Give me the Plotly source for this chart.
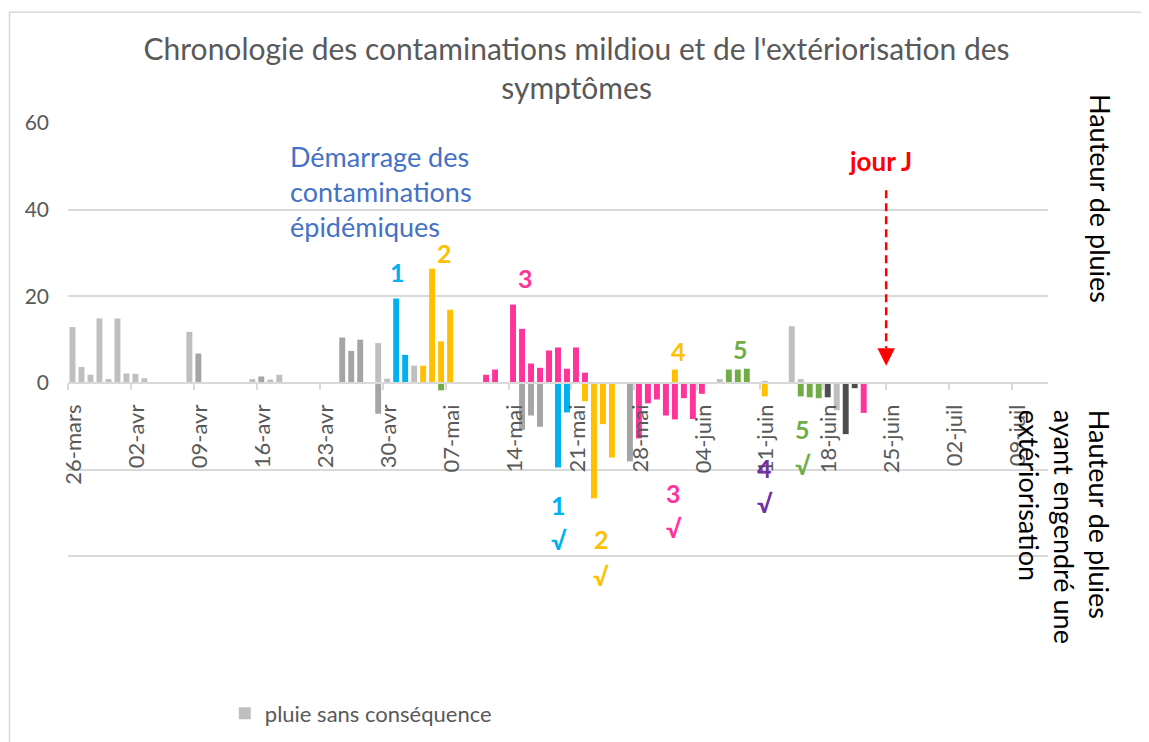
import plotly.graph_objects as go
from datetime import datetime, timedelta

YEAR = 2021
START = datetime(YEAR, 3, 26)

# ---------------- data (mm of rain per day, negatives = rains that led to symptoms) -------------
gris_clair_dates = ["03-26", "03-27", "03-28", "03-29", "03-30", "03-31", "04-01", "04-02", "04-03",
                    "04-08", "04-15", "04-17", "04-18", "04-29", "04-30", "05-03",
                    "06-06", "06-11", "06-14", "06-15", "06-19"]
gris_clair_vals = [12.9, 3.7, 1.9, 14.9, 0.9, 14.9, 2.2, 2.1, 1.1,
                   11.8, 0.9, 0.8, 1.9, 9.2, 1.0, 4.0,
                   0.9, 0.5, 13.1, 0.9, -6.3]

gris_moyen_dates = ["04-09", "04-16", "04-25", "04-26", "04-27", "04-29", "05-15", "05-16", "05-17", "05-27"]
gris_moyen_vals = [6.8, 1.5, 10.5, 7.4, 10.0, -7.1, -10.8, -7.5, -10.1, -18.1]

gris_fonce_dates = ["06-18", "06-20", "06-21"]
gris_fonce_vals = [-3.3, -11.8, -1.2]

bleu_dates = ["05-01", "05-02", "05-19", "05-20"]
bleu_vals = [19.5, 6.5, -19.5, -6.8]

orange_dates = ["05-04", "05-05", "05-06", "05-07", "05-22", "05-23", "05-24", "05-25", "06-01", "06-11"]
orange_vals = [4.0, 26.4, 9.6, 16.9, -4.2, -26.6, -9.5, -17.2, 3.1, -3.1]

rose_dates = ["05-11", "05-12", "05-14", "05-15", "05-16", "05-17", "05-18", "05-19", "05-20", "05-21",
              "05-22", "05-28", "05-29", "05-30", "05-31", "06-01", "06-02", "06-03", "06-04", "06-22"]
rose_vals = [1.9, 3.1, 18.1, 12.5, 4.5, 3.5, 7.5, 8.2, 3.3, 8.2,
             2.4, -12.8, -4.7, -3.8, -7.5, -8.4, -3.5, -8.3, -2.5, -6.9]

vert_dates = ["05-06", "06-07", "06-08", "06-09", "06-15", "06-16", "06-17"]
vert_vals = [-1.7, 3.1, 3.1, 3.3, -3.1, -3.3, -3.5]

tick_dates = ["03-26", "04-02", "04-09", "04-16", "04-23", "04-30", "05-07", "05-14",
              "05-21", "05-28", "06-04", "06-11", "06-18", "06-25", "07-02", "07-09"]
tick_labels = ["26-mars", "02-avr", "09-avr", "16-avr", "23-avr", "30-avr", "07-mai", "14-mai",
               "21-mai", "28-mai", "04-juin", "11-juin", "18-juin", "25-juin", "02-juil", "09-juil"]

y_ticks = [-60, -40, -20, 0, 20, 40, 60]
y_labels = ["", "", "", "0", "20", "40", "60"]


def dt(md):
    return f"{YEAR}-{md}"


def day(d):
    return (START + timedelta(days=d)).strftime("%Y-%m-%d %H:%M")


FONT = "Lato"
GREY_TXT = "#595959"
BAR_W = 0.66 * 86400000

fig = go.Figure()

series = [
    ("pluie sans conséquence", gris_clair_dates, gris_clair_vals, "#BFBFBF", True),
    ("gris", gris_moyen_dates, gris_moyen_vals, "#A5A5A5", False),
    ("gris foncé", gris_fonce_dates, gris_fonce_vals, "#4D4D4D", False),
    ("contamination 1", bleu_dates, bleu_vals, "#00B0F0", False),
    ("contamination 2/4", orange_dates, orange_vals, "#FFC000", False),
    ("contamination 3", rose_dates, rose_vals, "#FF3399", False),
    ("contamination 5", vert_dates, vert_vals, "#70AD47", False),
]
for name, ds, vs, col, show in series:
    fig.add_trace(go.Bar(
        x=[dt(d) for d in ds], y=vs, name=name, marker_color=col,
        marker_line_width=0, width=BAR_W, showlegend=show,
    ))

tickvals = [(datetime.strptime(dt(d), "%Y-%m-%d") - timedelta(hours=12)).strftime("%Y-%m-%d %H:%M")
            for d in tick_dates]

fig.update_layout(
    width=1141, height=734,
    margin=dict(l=60, r=101, t=115, b=99, autoexpand=False),
    paper_bgcolor="white", plot_bgcolor="white",
    barmode="relative",
    font=dict(family=FONT, color=GREY_TXT),
    title=dict(
        text="Chronologie des contaminations mildiou et de l'extériorisation des<br>symptômes",
        x=0.4983, xref="container", xanchor="center",
        y=1 - 52 / 734, yanchor="top",
        font=dict(family=FONT, size=30, color=GREY_TXT),
    ),
    xaxis=dict(
        type="date",
        range=[day(-0.5), day(108.5)],
        tickvals=tickvals, ticktext=tick_labels,
        tickangle=-90, tickfont=dict(size=22, color=GREY_TXT),
        anchor="free", position=0.5,
        showline=True, linecolor="#D9D9D9", linewidth=1.5,
        ticks="outside", ticklen=6, tickcolor="#D9D9D9", tickwidth=1.5,
        ticklabelshift=6, ticklabelstandoff=6,
        showgrid=False, zeroline=False, automargin=False,
    ),
    yaxis=dict(
        range=[-60, 60], tickvals=y_ticks, ticktext=y_labels,
        tickfont=dict(size=21, color=GREY_TXT),
        gridcolor="#D9D9D9", gridwidth=1.5,
        zeroline=False, showline=False, ticks="",
        ticklabelstandoff=18, automargin=False,
    ),
    legend=dict(
        orientation="h", x=0.16, xanchor="left", y=-0.095, yanchor="top",
        font=dict(size=22, color=GREY_TXT), bgcolor="rgba(0,0,0,0)",
    ),
)

# outer chart frame
fig.add_shape(type="rect", xref="paper", yref="paper",
              x0=-0.0597, x1=1.0969, y0=-0.3, y1=1.213,
              line=dict(color="#D9D9D9", width=1.5), fillcolor="rgba(0,0,0,0)", layer="below")

# jour J arrow (dashed)
fig.add_shape(type="line", x0=day(90.5), x1=day(90.5), y0=44.5, y1=8.0,
              line=dict(color="#FF0000", width=2.5, dash="8px,5px"))
fig.add_annotation(x=day(90.5), y=4.0, ax=0, ay=-16, text="", showarrow=True,
                   arrowhead=2, arrowsize=1.4, arrowwidth=2.5, arrowcolor="#FF0000")


def label(txt, d, y, color, size=25, bold=True, **kw):
    fig.add_annotation(x=day(d), y=y, text=f"<b>{txt}</b>" if bold else txt,
                       showarrow=False, font=dict(family=FONT, size=size, color=color), **kw)


label("Démarrage des<br>contaminations<br>épidémiques", 24.0, 44.1, "#4472C4",
      size=27, bold=False, xanchor="left", align="left")
label("1", 36.2, 25.7, "#00B0F0")
label("2", 41.4, 30.1, "#FFC000")
label("3", 50.4, 24.3, "#FF3399")
label("4", 67.4, 7.5, "#FFC000")
label("5", 74.3, 7.9, "#70AD47")
label("jour J", 89.9, 51.3, "#FF0000", size=26)

checks = [("1", 54.1, -28.1, -36.2, "#00B0F0"),
          ("2", 58.8, -35.9, -44.6, "#FFC000"),
          ("3", 66.9, -25.4, -33.5, "#FF3399"),
          ("4", 77.0, -19.5, -27.6, "#7030A0"),
          ("5", 81.2, -10.7, -19.0, "#70AD47")]
for n, d, y1, y2, c in checks:
    label(n, d, y1, c)
    label("√", d, y2, c)

# right-side axis titles
fig.add_annotation(xref="paper", yref="paper", x=1.053, y=0.854, text="Hauteur de pluies",
                   textangle=90, showarrow=False, xanchor="center", yanchor="middle",
                   font=dict(family=FONT, size=27, color="#000000"))
fig.add_annotation(xref="paper", yref="paper", x=1.017, y=0.224,
                   text="Hauteur de pluies<br>ayant engendré une<br>extériorisation",
                   textangle=90, showarrow=False, xanchor="center", yanchor="middle", align="left",
                   font=dict(family=FONT, size=27, color="#000000"))

fig.write_html("out.html")
